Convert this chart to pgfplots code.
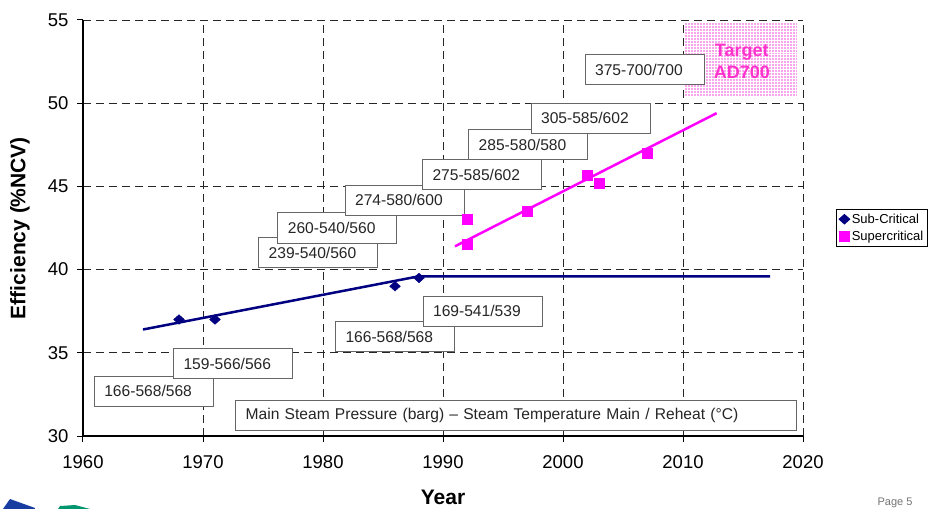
\documentclass[border=0pt]{standalone}
\usepackage{fontspec}
\setmainfont{Liberation Sans}
\usepackage{pgfplots}
\pgfplotsset{compat=1.18}
\usetikzlibrary{patterns}
\definecolor{navy}{RGB}{0,0,128}
\definecolor{mag}{RGB}{255,0,255}
\definecolor{tgt}{RGB}{255,51,204}
\definecolor{tgtfill}{RGB}{248,165,238}
\definecolor{logoblue}{RGB}{25,60,160}
\definecolor{logogreen}{RGB}{0,150,110}
\newcommand{\fs}[1]{\fontsize{#1bp}{#1bp}\selectfont}
\tikzset{lblbox/.style={draw=black!60, line width=1bp, fill=white, font=\fs{15.6}, text=black!85,
  text width=99bp, align=left, inner xsep=10bp, inner ysep=0bp, minimum height=30bp, anchor=center}}
\begin{document}
\begin{tikzpicture}
\path[use as bounding box] (-83bp,-73bp) rectangle (847bp,436bp);
\begin{axis}[
  at={(0,0)}, anchor=south west, scale only axis,
  width=720bp, height=416bp,
  xmin=1960, xmax=2020, ymin=30, ymax=55,
  xtick={1960,1970,...,2020}, ytick={30,35,...,55},
  axis x line*=bottom, axis y line*=left,
  axis line style={-, line width=1.2bp, black},
  grid=major,
  major grid style={black!85, line width=0.9bp, dash pattern=on 8bp off 5bp},
  tick align=outside, major tick length=6bp,
  tick style={black, line width=1bp},
  tick label style={font=\fs{18.5}},
  xticklabel style={yshift=-10bp},
  yticklabel style={xshift=-5bp},
  /pgf/number format/assume math mode=true,
  /pgf/number format/1000 sep={},
  xlabel={\bfseries Year}, ylabel={\bfseries Efficiency (\%NCV)},
  label style={font=\fs{21}},
  xlabel style={at={(axis description cs:0.5,-0.1466)}, anchor=center},
  ylabel style={at={(axis description cs:-0.0875,0.5)}, anchor=center},
  clip=false,
  legend cell align=left,
  legend style={at={(axis description cs:1.046,0.546)}, anchor=north west,
    font=\fs{13}, draw=black, line width=0.8bp, inner sep=2.5bp, row sep=2bp},
]
\fill[tgtfill] (axis cs:2010.15,50.45) rectangle (axis cs:2019.5,54.9);
\fill[pattern=grid, pattern color=white] (axis cs:2010.15,50.45) rectangle (axis cs:2019.5,54.9);
\node[font=\fontsize{18bp}{22bp}\selectfont\bfseries, text=tgt, align=center] at (axis cs:2014.9,52.5) {Target\\AD700};

\addplot[navy, line width=2.5bp, forget plot] coordinates {(1965,36.4)(1988,39.6)(2017.25,39.6)};
\addplot[mag, line width=2.5bp, forget plot] coordinates {(1991,41.4)(2012.8,49.4)};

\addplot[only marks, mark=diamond*, color=navy, mark size=4.8bp, mark options={xscale=1.5}]
  coordinates {(1968,37.0)(1971,37.0)(1986,39.0)(1988,39.5)};
\addlegendentry{Sub-Critical}
\addplot[only marks, mark=square*, color=mag, mark size=5bp]
  coordinates {(1992,43.0)(1992,41.5)(1997,43.5)(2002,45.7)(2003,45.2)(2007,47.0)};
\addlegendentry{Supercritical}

\node[lblbox] at (axis cs:1965.9,32.7) {166-568/568};
\node[lblbox] at (axis cs:1972.5,34.33) {159-566/566};
\node[lblbox] at (axis cs:1986.0,35.95) {166-568/568};
\node[lblbox] at (axis cs:1993.3,37.51) {169-541/539};
\node[lblbox] at (axis cs:1979.6,41.0) {239-540/560};
\node[lblbox] at (axis cs:1981.2,42.5) {260-540/560};
\node[lblbox] at (axis cs:1986.8,44.18) {274-580/600};
\node[lblbox] at (axis cs:1993.25,45.69) {275-585/602};
\node[lblbox] at (axis cs:1997.1,47.49) {285-580/580};
\node[lblbox] at (axis cs:2002.3,49.11) {305-585/602};
\node[lblbox] at (axis cs:2006.8,52.0) {375-700/700};
\node[lblbox, text width=541bp] at (axis cs:1996.1,31.26) {Main Steam Pressure (barg) -- Steam Temperature Main / Reheat (°C)};
\end{axis}
\node[font=\fs{11}, text=black!55] at (812bp,-67bp) {Page 5};
\fill[logoblue] (-80bp,-73bp) -- (-73bp,-63bp) -- (-48bp,-72bp) -- (-48bp,-73bp) -- cycle;
\fill[logogreen] (-23bp,-70bp) -- (-8bp,-69bp) -- (7bp,-73bp) -- (-25bp,-73bp) -- cycle;
\end{tikzpicture}
\end{document}
